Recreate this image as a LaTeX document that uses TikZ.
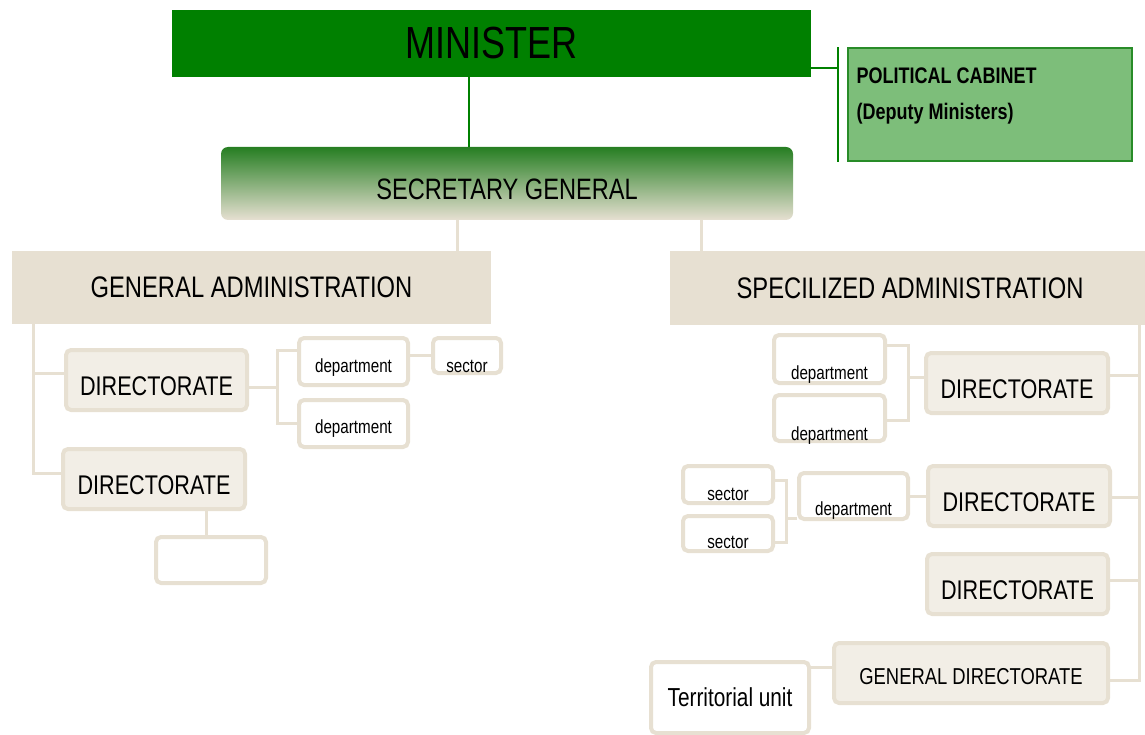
\documentclass[tikz,border=0pt]{standalone}
\usepackage{fontspec}
\setmainfont{Liberation Sans}[FakeStretch=0.8]
\usetikzlibrary{positioning}

\definecolor{mingreen}{RGB}{0,128,0}
\definecolor{cabgreen}{RGB}{125,190,122}
\definecolor{cabedge}{RGB}{40,140,40}
\definecolor{sgtop}{RGB}{38,126,34}
\definecolor{sgmid}{RGB}{170,186,150}
\definecolor{beige}{RGB}{231,224,210}
\definecolor{dirfill}{RGB}{242,238,230}

\tikzset{
  unitbox/.style={draw=beige, line width=4pt, rounded corners=5pt, inner sep=0pt, fill=white},
  dirbox/.style={unitbox, fill=dirfill, minimum width=182pt, minimum height=60pt,
    font=\fontsize{27}{30}\selectfont, text height=31pt, text depth=0pt},
  deptbox/.style={unitbox, font=\fontsize{19}{22}\selectfont},
  sunk/.style={text height=#1, text depth=0pt},
  adminbox/.style={fill=beige, inner sep=0pt, minimum width=479pt, minimum height=73pt,
    font=\fontsize{29.7}{32}\selectfont},
  blink/.style={draw=beige, line width=3pt},
  glink/.style={draw=mingreen, line width=2pt}
}

\begin{document}
\begin{tikzpicture}[x=1pt, y=-1pt]
  \useasboundingbox (0,0) rectangle (1145,735);

  % top level
  \node[fill=mingreen, minimum width=639pt, minimum height=67pt, inner sep=0pt,
        font=\fontsize{45}{48}\selectfont] (minister) at (491.5,43.5) {MINISTER};
  \node[fill=cabgreen, draw=cabedge, line width=1.5pt, minimum width=284pt,
        minimum height=113pt, inner sep=0pt] (cab) at (990,104.5) {};
  \node[anchor=west, font=\bfseries\fontsize{22.5}{24}\selectfont] (cabtop) at (853,76) {POLITICAL CABINET};
  \node[anchor=west, font=\bfseries\fontsize{22.5}{24}\selectfont] (cabsub) at (853,114) {(Deputy Ministers)};
  \node[top color=sgtop, middle color=sgmid, bottom color=beige, rounded corners=7pt,
        minimum width=572pt, minimum height=73pt, inner sep=0pt, sunk=32pt,
        font=\fontsize{29.5}{32}\selectfont] (sg) at (507,183.5) {SECRETARY GENERAL};

  \coordinate (cb) at (838,68);
  \draw[glink] ([xshift=-22.5pt]minister.south) -- ([xshift=-22.5pt]minister.south |- sg.north);
  \draw[glink] (minister.east |- cb) -- (cb);
  \draw[glink] (cb |- cab.north) -- (cb |- cab.south);

  % administrations
  \node[adminbox] (ga) at (251.5,287.5) {GENERAL ADMINISTRATION};
  \node[adminbox, minimum width=480pt, minimum height=74pt] (sa) at (910,288) {SPECILIZED ADMINISTRATION};
  \draw[blink] ([xshift=-50pt]sg.south) -- ([xshift=-50pt]sg.south |- ga.north);
  \draw[blink] ([xshift=194pt]sg.south) -- ([xshift=194pt]sg.south |- sa.north);

  % general administration branch
  \node[dirbox, minimum width=181pt] (dir1) at (156.5,380) {DIRECTORATE};
  \node[dirbox] (dir2) at (154,479) {DIRECTORATE};
  \node[deptbox, minimum width=109pt, minimum height=47pt, sunk=21pt] (dept1) at (353.5,361.5) {department};
  \node[deptbox, minimum width=109pt, minimum height=47pt, sunk=19pt] (dept2) at (353.5,423.5) {department};
  \node[deptbox, minimum width=68pt, minimum height=35pt, sunk=33pt] (sec1) at (467,355.5) {sector};
  \node[unitbox, minimum width=110pt, minimum height=46pt] (blank) at (211,560) {};

  \coordinate (gtop) at (33,324);
  \coordinate (g1) at (33,373);
  \coordinate (g2) at (33,473);
  \draw[blink] (gtop) -- (g2) -- (dir2.west |- g2);
  \draw[blink] (g1) -- (dir1.west |- g1);
  \coordinate (b1) at (277,387);
  \coordinate (bt1) at (277,350);
  \coordinate (bb1) at (277,423);
  \draw[blink] (dir1.east |- b1) -- (b1);
  \draw[blink] (dept1.west |- bt1) -- (bt1) -- (bb1) -- (dept2.west |- bb1);
  \draw[blink] (dept1.east |- sec1.west) -- (sec1.west);
  \draw[blink] ([xshift=-5pt]blank.north) -- ([xshift=-5pt]blank.north |- dir2.south);

  % specialized administration branch
  \node[dirbox] (dira) at (1017,383) {DIRECTORATE};
  \node[dirbox] (dirb) at (1019,496) {DIRECTORATE};
  \node[dirbox, minimum width=181pt] (dirc) at (1017.5,584) {DIRECTORATE};
  \node[dirbox, minimum width=274pt, font=\fontsize{23}{26}\selectfont, sunk=23pt] (gendir) at (971,673) {GENERAL DIRECTORATE};
  \node[unitbox, minimum width=158pt, minimum height=71pt,
        font=\fontsize{26}{29}\selectfont] (terr) at (730,697.5) {Territorial unit};
  \node[deptbox, minimum width=111pt, minimum height=48pt, sunk=40pt] (da1) at (829.5,359) {department};
  \node[deptbox, minimum width=111pt, minimum height=46pt, sunk=44pt] (da2) at (829.5,418) {department};
  \node[deptbox, minimum width=109pt, minimum height=46pt, sunk=38pt] (db) at (853.5,496) {department};
  \node[deptbox, minimum width=90pt, minimum height=37pt, sunk=31pt] (sb1) at (728,484.5) {sector};
  \node[deptbox, minimum width=90pt, minimum height=35pt, sunk=29pt] (sb2) at (728,533.5) {sector};

  \coordinate (st) at (1139,325);
  \coordinate (ra) at (1139,375);
  \coordinate (rb) at (1139,497);
  \coordinate (rc) at (1139,580);
  \coordinate (rd) at (1139,680);
  \draw[blink] (st) -- (rd) -- (gendir.east |- rd);
  \draw[blink] (ra) -- (dira.east |- ra);
  \draw[blink] (rb) -- (dirb.east |- rb);
  \draw[blink] (rc) -- (dirc.east |- rc);
  \coordinate (ba) at (908,377);
  \coordinate (bta) at (908,345);
  \coordinate (bba) at (908,420);
  \draw[blink] (dira.west |- ba) -- (ba);
  \draw[blink] (da1.east |- bta) -- (bta) -- (bba) -- (da2.east |- bba);
  \draw[blink] (db.east) -- (dirb.west |- db.east);
  \coordinate (bs) at (786,518);
  \coordinate (bst) at (786,480);
  \coordinate (bsb) at (786,542);
  \draw[blink] (db.west |- bs) -- (bs);
  \draw[blink] (sb1.east |- bst) -- (bst) -- (bsb) -- (sb2.east |- bsb);
  \draw[blink] ([yshift=6pt]gendir.west) -- ([yshift=6pt]gendir.west -| terr.east);
\end{tikzpicture}
\end{document}
